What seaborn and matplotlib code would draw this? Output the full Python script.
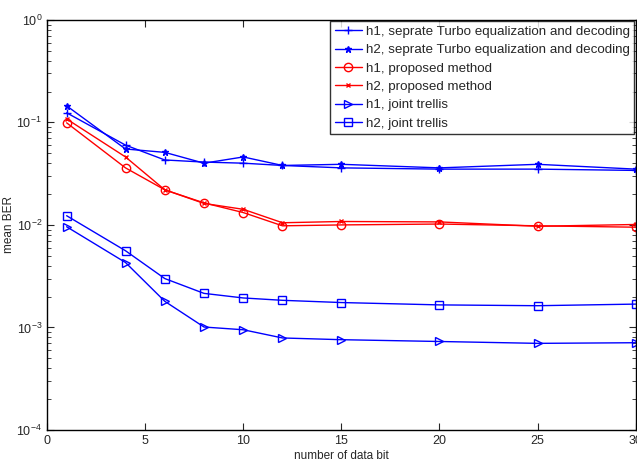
import numpy as np
import pandas as pd
import matplotlib
matplotlib.use('Agg')
import matplotlib.pyplot as plt
import seaborn as sns
from matplotlib.ticker import LogLocator, NullFormatter

bits = [1, 4, 6, 8, 10, 12, 15, 20, 25, 30]

h1_separate = [0.124, 0.060, 0.043, 0.041, 0.040, 0.038, 0.036, 0.035, 0.035, 0.034]
h2_separate = [0.145, 0.055, 0.051, 0.040, 0.046, 0.038, 0.039, 0.036, 0.039, 0.035]
h1_proposed = [0.099, 0.036, 0.022, 0.0164, 0.0132, 0.0098, 0.0100, 0.0102, 0.0098, 0.0095]
h2_proposed = [0.108, 0.046, 0.022, 0.0162, 0.0142, 0.0105, 0.0108, 0.0107, 0.0097, 0.0101]
h1_joint = [0.0096, 0.0043, 0.0018, 0.00101, 0.00095, 0.00079, 0.00076, 0.00073, 0.00070, 0.00071]
h2_joint = [0.0123, 0.0056, 0.0030, 0.00215, 0.00194, 0.00184, 0.00175, 0.00166, 0.00163, 0.00169]

labels = [
    'h1, seprate Turbo equalization and decoding',
    'h2, seprate Turbo equalization and decoding',
    'h1, proposed method',
    'h2, proposed method',
    'h1, joint trellis',
    'h2, joint trellis',
]
series = [h1_separate, h2_separate, h1_proposed, h2_proposed, h1_joint, h2_joint]

styles = [
    dict(color='blue', marker='+', markersize=6, mfc='blue'),
    dict(color='blue', marker='*', markersize=5, mfc='blue'),
    dict(color='red', marker='o', markersize=6, mfc='none'),
    dict(color='red', marker='x', markersize=3, mfc='red'),
    dict(color='blue', marker='>', markersize=6, mfc='none'),
    dict(color='blue', marker='s', markersize=6, mfc='none'),
]

sns.set_style('ticks')
plt.rcParams['font.family'] = ['Liberation Sans', 'DejaVu Sans']

fig = plt.figure(figsize=(6.37, 4.61), dpi=100)
ax = fig.add_axes([0.0738, 0.0672, 0.9242, 0.8898])

for lab, vals, st in zip(labels, series, styles):
    df = pd.DataFrame({'bits': bits, 'ber': vals})
    sns.lineplot(data=df, x='bits', y='ber', ax=ax, label=lab, color=st['color'],
                 marker=st['marker'], markersize=st['markersize'],
                 markerfacecolor=st['mfc'], markeredgecolor=st['color'],
                 markeredgewidth=1, linewidth=1)

ax.set_yscale('log')
ax.set_xlim(0, 30)
ax.set_ylim(1e-4, 1)
ax.set_xticks([0, 5, 10, 15, 20, 25, 30])
ax.yaxis.set_major_locator(LogLocator(base=10, numticks=10))
ax.yaxis.set_minor_locator(LogLocator(base=10, subs=np.arange(2, 10), numticks=10))
ax.yaxis.set_minor_formatter(NullFormatter())
ax.tick_params(which='both', direction='in', top=True, right=True, labelsize=9)
ax.tick_params(which='major', length=5)
ax.tick_params(which='minor', length=3)
for sp in ax.spines.values():
    sp.set_linewidth(1)
    sp.set_color('black')

ax.set_xlabel('number of data bit', fontsize=8.5, labelpad=2)
ax.set_ylabel('mean BER', fontsize=8.5)
ax.yaxis.set_label_coords(-0.055, 0.5)

leg = ax.legend(loc='upper right', fontsize=9.6, frameon=True, fancybox=False,
                edgecolor='black', borderaxespad=0.1, handlelength=2.0,
                handletextpad=0.3, labelspacing=0.45, borderpad=0.35)
leg.get_frame().set_linewidth(1)

fig.savefig('out.png', dpi=100)
